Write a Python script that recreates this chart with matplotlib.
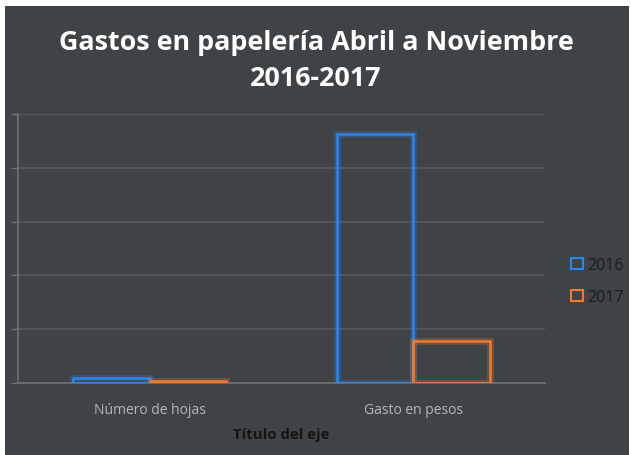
import matplotlib
matplotlib.use("Agg")
import matplotlib.pyplot as plt
import matplotlib.patheffects as pe
from matplotlib.patches import Rectangle, Patch
import numpy as np

plt.rcParams['font.family'] = ['Open Sans', 'DejaVu Sans']

# Data
categories = ["Número de hojas", "Gasto en pesos"]
series_names = ["2016", "2017"]
values_2016 = [90, 4620]
values_2017 = [40, 780]
y_ticks = [0, 1000, 2000, 3000, 4000, 5000]

title_text = "Gastos en papelería Abril a Noviembre\n2016-2017"
x_axis_title = "Título del eje"

bg = "#404346"
blue = "#2f86e6"
orange = "#f07a30"
grid_col = "#56595c"
spine_col = "#707376"

W, H = 631, 456
fig = plt.figure(figsize=(W / 100, H / 100), dpi=100, facecolor="white")
fig.patches.append(Rectangle((5 / W, 0), 1 - 7 / W, 1 - 7 / H,
                             transform=fig.transFigure, facecolor=bg,
                             edgecolor="none", zorder=-10))

ax = fig.add_axes([18 / W, 1 - 384 / H, (545 - 18) / W, (384 - 115) / H])
ax.set_facecolor("none")
ax.set_zorder(1)

x = np.arange(len(categories))
bw = 0.29
glow_b = [pe.Stroke(linewidth=5, foreground=blue, alpha=0.25), pe.Normal()]
glow_o = [pe.Stroke(linewidth=5, foreground=orange, alpha=0.25), pe.Normal()]
b1 = ax.bar(x - bw / 2, values_2016, width=bw, facecolor="none",
            edgecolor=blue, linewidth=1.8, zorder=3)
b2 = ax.bar(x + bw / 2, values_2017, width=bw, facecolor="none",
            edgecolor=orange, linewidth=1.8, zorder=3)
for r in b1:
    r.set_path_effects(glow_b)
for r in b2:
    r.set_path_effects(glow_o)

ax.set_xlim(-0.5, 1.5)
ax.set_ylim(0, 5000)
ax.set_yticks(y_ticks)
ax.set_yticklabels([])
ax.yaxis.grid(True, color=grid_col, linewidth=1.2)
ax.set_axisbelow(True)
ax.tick_params(axis="y", length=5, color=spine_col, width=1)
ax.tick_params(axis="x", length=0, pad=14, labelcolor="#b4b6b8", labelsize=10)
ax.set_xticks(x)
ax.set_xticklabels(categories)

for s in ["top", "right"]:
    ax.spines[s].set_visible(False)
ax.spines["left"].set_color(spine_col)
ax.spines["bottom"].set_color(spine_col)
ax.spines["left"].set_linewidth(1.2)
ax.spines["bottom"].set_linewidth(1.2)

ax.set_xlabel(x_axis_title, fontsize=10.8, fontweight="bold", color="#151515",
              labelpad=7)

fig.text(316 / W, 1 - 61 / H, title_text, ha="center", va="center",
         fontsize=19.4, fontweight="bold", color="white", linespacing=1.55)

handles = [Patch(facecolor="none", edgecolor=blue, linewidth=1.5),
           Patch(facecolor="none", edgecolor=orange, linewidth=1.5)]
leg = fig.legend(handles, series_names, loc="center left",
                 bbox_to_anchor=(557 / W, 1 - 282 / H), frameon=False,
                 fontsize=11.5, handlelength=0.75, handleheight=0.75,
                 handletextpad=0.25, labelspacing=1.0)
for t in leg.get_texts():
    t.set_color("#1c1c1c")

fig.savefig("out.png", dpi=100, facecolor="white")
